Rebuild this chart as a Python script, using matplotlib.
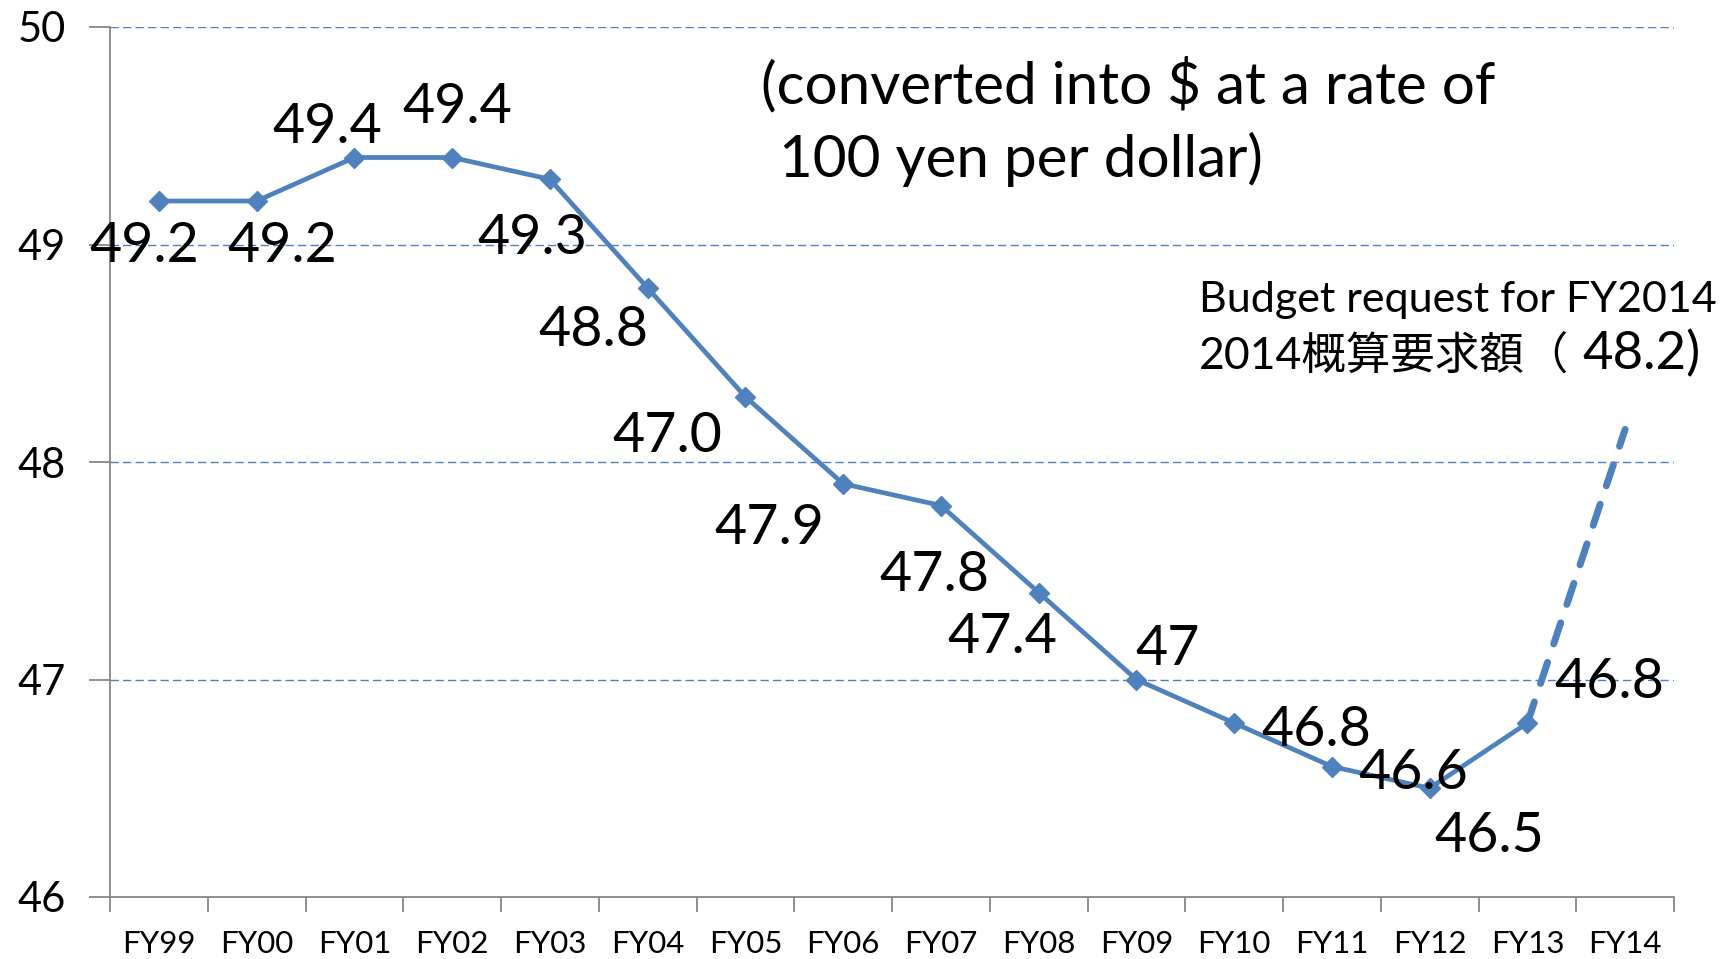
import matplotlib.pyplot as plt

# fiscal years and budget (billion $)
years = ["FY99", "FY00", "FY01", "FY02", "FY03", "FY04", "FY05", "FY06",
         "FY07", "FY08", "FY09", "FY10", "FY11", "FY12", "FY13", "FY14"]
budget = [49.2, 49.2, 49.4, 49.4, 49.3, 48.8, 48.3, 47.9,
          47.8, 47.4, 47.0, 46.8, 46.6, 46.5, 46.8]
request_fy14 = 48.15

# data labels as printed on the chart
point_labels = ["49.2", "49.2", "49.4", "49.4", "49.3", "48.8", "47.0", "47.9",
                "47.8", "47.4", "47", "46.8", "46.6", "46.5", "46.8"]
# label offsets from each point, in pixels
label_offsets = [(-15, -45), (26, -45), (-27, 30), (5, 50), (-18, -59),
                 (-54, -42), (-78, -40), (-74, -45), (-6, -70), (-36, -45),
                 (31, 30), (82, -8), (81, -7), (60, -48), (82, 40)]

yticks = [46, 47, 48, 49, 50]

blue = "#4F81BD"
axis_gray = "#868686"
plt.rcParams["font.family"] = ["Lato", "Noto Sans CJK JP", "DejaVu Sans"]

fig = plt.figure(figsize=(17.21, 9.59), dpi=100)
ax = fig.add_axes([110 / 1721, 62 / 959, 1564 / 1721, 870 / 959])

x = list(range(len(budget)))
ax.plot(x, budget, color=blue, lw=3.4, marker="D", ms=10, zorder=3)
ax.plot([x[-1], len(years) - 1], [budget[-1], request_fy14], color=blue,
        lw=5, dashes=(3.2, 2.8), dash_capstyle="round", zorder=3)

for i, (lab, off) in enumerate(zip(point_labels, label_offsets)):
    ax.annotate(lab, (i, budget[i]), xytext=off, textcoords="offset pixels",
                ha="center", va="center", fontsize=40, zorder=4)

ax.set_xlim(-0.5, len(years) - 0.5)
ax.set_ylim(46, 50)
ax.set_yticks(yticks)
ax.set_yticklabels([str(t) for t in yticks], fontsize=30)
ax.set_xticks(range(len(years)))
ax.set_xticklabels(years, fontsize=22.5)
ax.set_xticks([i - 0.5 for i in range(len(years) + 1)], minor=True)
ax.tick_params(axis="x", which="major", length=0, pad=24)
ax.tick_params(axis="x", which="minor", length=11, width=1.3, color=axis_gray,
               direction="out")
ax.tick_params(axis="y", length=15, width=1.3, color=axis_gray, pad=17)

for y in yticks[1:]:
    ax.axhline(y, color=blue, lw=1, dashes=(6, 3), zorder=1)

for s in ["top", "right"]:
    ax.spines[s].set_visible(False)
for s in ["left", "bottom"]:
    ax.spines[s].set_color(axis_gray)
    ax.spines[s].set_linewidth(1.3)

fig.text(761 / 1721, 1 - 85 / 959, "(converted into $ at a rate of",
         fontsize=42, ha="left", va="center")
fig.text(779 / 1721, 1 - 159 / 959, "100 yen per dollar)",
         fontsize=42, ha="left", va="center")

fig.text(1199 / 1721, 1 - 312 / 959, "Budget request for FY2014",
         fontsize=31, ha="left", va="baseline")
fig.text(1199 / 1721, 1 - 369 / 959, "2014概算要求額（",
         fontsize=32, ha="left", va="baseline")
fig.text(1582 / 1721, 1 - 369 / 959, "48.2)",
         fontsize=38, ha="left", va="baseline")

fig.savefig("out.png", dpi=100)
